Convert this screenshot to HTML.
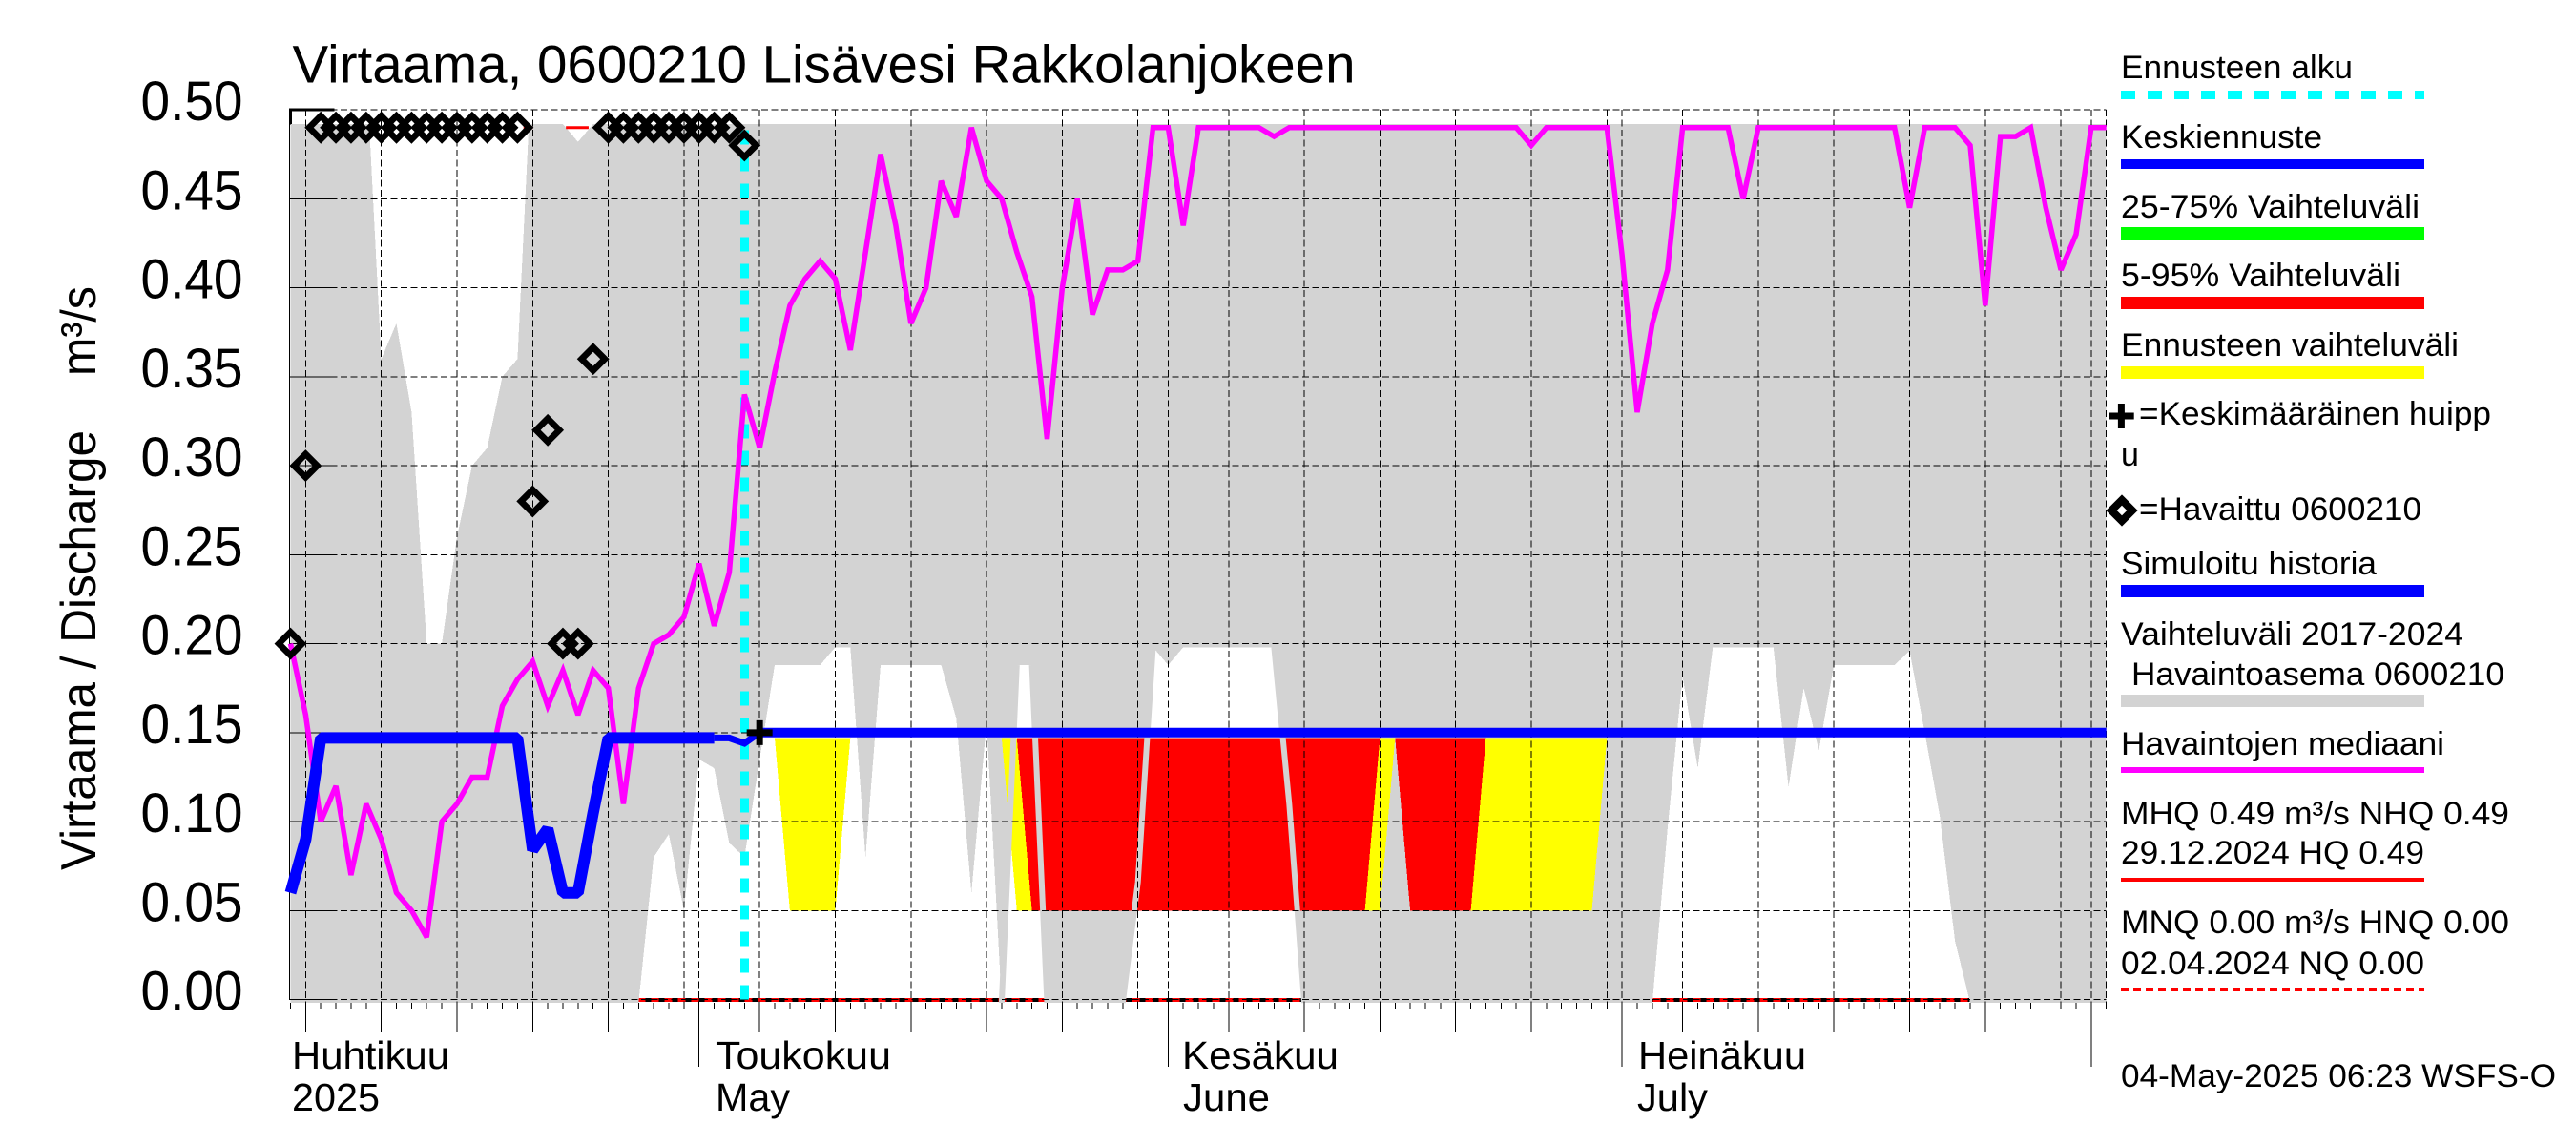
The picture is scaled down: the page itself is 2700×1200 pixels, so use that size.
<!DOCTYPE html>
<html lang="fi">
<head>
<meta charset="utf-8">
<title>Virtaama, 0600210 Lisävesi Rakkolanjokeen</title>
<style>
html,body{margin:0;padding:0;background:#fff;width:2700px;height:1200px;overflow:hidden}
svg{display:block}
text{font-family:"Liberation Sans",sans-serif;fill:#000}
</style>
</head>
<body>
<svg id="chart" xmlns="http://www.w3.org/2000/svg" width="2700" height="1200" viewBox="0 0 2700 1200">
  <defs>
    <clipPath id="range-clip"><rect x="304" y="130" width="1904" height="921"/></clipPath>
  </defs>
  <rect x="0" y="0" width="2700" height="1200" fill="#fff"/>
  <text x="306.5" y="86.5" font-size="56" textLength="1114" lengthAdjust="spacingAndGlyphs">Virtaama, 0600210 Lisävesi Rakkolanjokeen</text>
  <text transform="translate(100,912) rotate(-90)" font-size="52" textLength="461" lengthAdjust="spacingAndGlyphs">Virtaama / Discharge</text>
  <text transform="translate(100,394) rotate(-90)" font-size="52" textLength="94" lengthAdjust="spacingAndGlyphs">m³/s</text>
  <g id="plot"></g>
  <g font-size="41">
    <text x="306" y="1120" textLength="165" lengthAdjust="spacingAndGlyphs">Huhtikuu</text>
    <text x="306" y="1164" textLength="92" lengthAdjust="spacingAndGlyphs">2025</text>
    <text x="750" y="1120" textLength="184" lengthAdjust="spacingAndGlyphs">Toukokuu</text>
    <text x="750" y="1164" textLength="78" lengthAdjust="spacingAndGlyphs">May</text>
    <text x="1239" y="1120" textLength="164" lengthAdjust="spacingAndGlyphs">Kesäkuu</text>
    <text x="1240" y="1164" textLength="91" lengthAdjust="spacingAndGlyphs">June</text>
    <text x="1717" y="1120" textLength="176" lengthAdjust="spacingAndGlyphs">Heinäkuu</text>
    <text x="1716" y="1164" textLength="74" lengthAdjust="spacingAndGlyphs">July</text>
  </g>
  <g font-size="34">
    <text x="2223" y="82" textLength="243" lengthAdjust="spacingAndGlyphs">Ennusteen alku</text>
    <line x1="2223" y1="99.5" x2="2541" y2="99.5" stroke="#00ffff" stroke-width="9" stroke-dasharray="15,13" shape-rendering="crispEdges"/>
    <text x="2223" y="155" textLength="211" lengthAdjust="spacingAndGlyphs">Keskiennuste</text>
    <rect x="2223" y="167" width="318" height="10" fill="#0000ff"/>
    <text x="2223" y="228" textLength="313" lengthAdjust="spacingAndGlyphs">25-75% Vaihteluväli</text>
    <rect x="2223" y="238" width="318" height="14" fill="#00ff00"/>
    <text x="2223" y="300" textLength="293" lengthAdjust="spacingAndGlyphs">5-95% Vaihteluväli</text>
    <rect x="2223" y="311" width="318" height="13" fill="#ff0000"/>
    <text x="2223" y="373" textLength="354" lengthAdjust="spacingAndGlyphs">Ennusteen vaihteluväli</text>
    <rect x="2223" y="384" width="318" height="13" fill="#ffff00"/>
    <path d="M2210 436H2236.7M2223.4 423V449" stroke="#000" stroke-width="7" fill="none"/>
    <text x="2242" y="445" textLength="369" lengthAdjust="spacingAndGlyphs">=Keskimääräinen huipp</text>
    <text x="2223" y="488">u</text>
    <path d="M2224 524L2235 535L2224 546L2213 535Z" stroke="#000" stroke-width="8" fill="none"/>
    <text x="2242" y="545" textLength="296" lengthAdjust="spacingAndGlyphs">=Havaittu 0600210</text>
    <text x="2223" y="602" textLength="268" lengthAdjust="spacingAndGlyphs">Simuloitu historia</text>
    <rect x="2223" y="613" width="318" height="13" fill="#0000ff"/>
    <text x="2223" y="676" textLength="359" lengthAdjust="spacingAndGlyphs">Vaihteluväli 2017-2024</text>
    <text x="2234" y="718" textLength="391" lengthAdjust="spacingAndGlyphs">Havaintoasema 0600210</text>
    <rect x="2223" y="728" width="318" height="13" fill="#d3d3d3"/>
    <text x="2223" y="791" textLength="339" lengthAdjust="spacingAndGlyphs">Havaintojen mediaani</text>
    <rect x="2223" y="804" width="318" height="6" fill="#ff00ff"/>
    <text x="2223" y="864" textLength="407" lengthAdjust="spacingAndGlyphs">MHQ 0.49 m³/s NHQ 0.49</text>
    <text x="2223" y="905" textLength="318" lengthAdjust="spacingAndGlyphs">29.12.2024 HQ 0.49</text>
    <rect x="2223" y="920" width="318" height="4" fill="#ff0000"/>
    <text x="2223" y="978" textLength="407" lengthAdjust="spacingAndGlyphs">MNQ 0.00 m³/s HNQ 0.00</text>
    <text x="2223" y="1021" textLength="318" lengthAdjust="spacingAndGlyphs">02.04.2024 NQ 0.00</text>
    <line x1="2223" y1="1037" x2="2541" y2="1037" stroke="#ff0000" stroke-width="4" stroke-dasharray="8,5" shape-rendering="crispEdges"/>
    <text x="2223" y="1139" textLength="456" lengthAdjust="spacingAndGlyphs">04-May-2025 06:23 WSFS-O</text>
  </g>
</svg>
<script>
// Chart data. Series are one value per day, counted from the first plotted day (4 April 2025).
const yTickValues = [0, 0.05, 0.10, 0.15, 0.20, 0.25, 0.30, 0.35, 0.40, 0.45, 0.50];
const yTickLabels = ['0.00', '0.05', '0.10', '0.15', '0.20', '0.25', '0.30', '0.35', '0.40', '0.45', '0.50'];
const majorTickDays = [1, 6, 11, 16, 21, 31, 36, 41, 46, 51, 62, 67, 72, 77, 82, 92, 97, 102, 107, 112];
const monthStartDays = [27, 58, 88, 119];
const extraGridDays = [26, 56, 87, 117, 120];
const dayCount = 121;
const forecastStartDay = 30;
const peakDay = 31;
const peakValue = 0.15;

const medianValues = [
  0.20, 0.16, 0.10, 0.12, 0.07, 0.11, 0.09, 0.06, 0.05, 0.035,
  0.10, 0.11, 0.125, 0.125, 0.165, 0.18, 0.19, 0.165, 0.185, 0.16,
  0.185, 0.175, 0.11, 0.175, 0.20, 0.205, 0.215, 0.245, 0.21, 0.24,
  0.34, 0.31, 0.3525, 0.39, 0.405, 0.415, 0.405, 0.365, 0.42, 0.475,
  0.435, 0.38, 0.40, 0.46, 0.44, 0.49, 0.46, 0.45, 0.42, 0.395,
  0.315, 0.40, 0.45, 0.385, 0.41, 0.41, 0.415, 0.49, 0.49, 0.435,
  0.49, 0.49, 0.49, 0.49, 0.49, 0.485, 0.49, 0.49, 0.49, 0.49,
  0.49, 0.49, 0.49, 0.49, 0.49, 0.49, 0.49, 0.49, 0.49, 0.49,
  0.49, 0.49, 0.48, 0.49, 0.49, 0.49, 0.49, 0.49, 0.418, 0.33,
  0.38, 0.41, 0.49, 0.49, 0.49, 0.49, 0.45, 0.49, 0.49, 0.49,
  0.49, 0.49, 0.49, 0.49, 0.49, 0.49, 0.49, 0.445, 0.49, 0.49,
  0.49, 0.48, 0.39, 0.485, 0.485, 0.49, 0.445, 0.41, 0.43, 0.49,
  0.49
];
const rangeUpper = [
  0.492, 0.492, 0.492, 0.492, 0.492, 0.525, 0.36, 0.38, 0.33, 0.20,
  0.20, 0.26, 0.30, 0.31, 0.35, 0.36, 0.536, 0.492, 0.492, 0.482,
  0.492, 0.492, 0.492, 0.492, 0.492, 0.492, 0.492, 0.492, 0.492, 0.492,
  0.492, 0.492, 0.492, 0.492, 0.492, 0.492, 0.492, 0.492, 0.492, 0.492,
  0.492, 0.492, 0.492, 0.492, 0.492, 0.492, 0.492, 0.492, 0.492, 0.492,
  0.492, 0.492, 0.492, 0.492, 0.492, 0.492, 0.492, 0.492, 0.492, 0.492,
  0.492, 0.492, 0.492, 0.492, 0.492, 0.492, 0.492, 0.492, 0.492, 0.492,
  0.492, 0.492, 0.492, 0.492, 0.492, 0.492, 0.492, 0.492, 0.492, 0.492,
  0.492, 0.492, 0.492, 0.492, 0.492, 0.492, 0.492, 0.492, 0.492, 0.492,
  0.492, 0.492, 0.492, 0.492, 0.492, 0.492, 0.492, 0.492, 0.492, 0.492,
  0.492, 0.492, 0.492, 0.492, 0.492, 0.492, 0.492, 0.492, 0.492, 0.492,
  0.492, 0.492, 0.492, 0.492, 0.492, 0.492, 0.492, 0.492, 0.492, 0.492,
  0.492
];
const rangeLower = [
  0, 0, 0, 0, 0, 0, 0, 0, 0, 0,
  0, 0, 0, 0, 0, 0, 0, 0, 0, 0,
  0, 0, 0, 0, 0.08, 0.093, 0.05, 0.135, 0.13, 0.088,
  0.08, 0.135, 0.188, 0.188, 0.188, 0.188, 0.198, 0.198, 0.08, 0.188,
  0.188, 0.188, 0.188, 0.188, 0.158, 0.06, 0.156, 0, 0.188, 0.188,
  0, 0, 0, 0, 0, 0, 0.066, 0.198, 0.188, 0.198,
  0.198, 0.198, 0.198, 0.198, 0.198, 0.198, 0.11, 0, 0, 0,
  0, 0, 0, 0, 0, 0, 0, 0, 0, 0,
  0, 0, 0, 0, 0, 0, 0, 0, 0, 0,
  0, 0.096, 0.1815, 0.13, 0.198, 0.198, 0.198, 0.198, 0.198, 0.1194,
  0.175, 0.14, 0.188, 0.188, 0.188, 0.188, 0.188, 0.196, 0.15, 0.103,
  0.033, 0, 0, 0, 0, 0, 0, 0, 0, 0,
  0
];
const simulatedHistory = [
  0.06, 0.09, 0.147, 0.147, 0.147, 0.147, 0.147, 0.147, 0.147, 0.147,
  0.147, 0.147, 0.147, 0.147, 0.147, 0.147, 0.084, 0.096, 0.06, 0.06,
  0.105, 0.147, 0.147, 0.147, 0.147, 0.147, 0.147, 0.147, 0.147
];
const transitionStartDay = 28;
const transitionValues = [0.147, 0.147, 0.144, 0.15];
const meanForecastStartDay = 31;
const meanForecast = [
  0.15, 0.15, 0.15, 0.15, 0.15, 0.15, 0.15, 0.15, 0.15, 0.15,
  0.15, 0.15, 0.15, 0.15, 0.15, 0.15, 0.15, 0.15, 0.15, 0.15,
  0.15, 0.15, 0.15, 0.15, 0.15, 0.15, 0.15, 0.15, 0.15, 0.15,
  0.15, 0.15, 0.15, 0.15, 0.15, 0.15, 0.15, 0.15, 0.15, 0.15,
  0.15, 0.15, 0.15, 0.15, 0.15, 0.15, 0.15, 0.15, 0.15, 0.15,
  0.15, 0.15, 0.15, 0.15, 0.15, 0.15, 0.15, 0.15, 0.15, 0.15,
  0.15, 0.15, 0.15, 0.15, 0.15, 0.15, 0.15, 0.15, 0.15, 0.15,
  0.15, 0.15, 0.15, 0.15, 0.15, 0.15, 0.15, 0.15, 0.15, 0.15,
  0.15, 0.15, 0.15, 0.15, 0.15, 0.15, 0.15, 0.15, 0.15, 0.15
];
const observedValues = [
  0.20, 0.30, 0.49, 0.49, 0.49, 0.49, 0.49, 0.49, 0.49, 0.49,
  0.49, 0.49, 0.49, 0.49, 0.49, 0.49, 0.28, 0.32, 0.20, 0.20,
  0.36, 0.49, 0.49, 0.49, 0.49, 0.49, 0.49, 0.49, 0.49, 0.49,
  0.48
];
const bandTop = 0.147;
const yellowStartDay = 32;
const yellowLower = [
  0.147, 0.05, 0.05, 0.05, 0.05, 0.147, 0.147, 0.147, 0.147, 0.147,
  0.147, 0.147, 0.147, 0.147, 0.147, 0.147, 0.05, 0.05, 0.05, 0.05,
  0.05, 0.05, 0.05, 0.05, 0.05, 0.05, 0.05, 0.05, 0.05, 0.05,
  0.05, 0.05, 0.05, 0.05, 0.05, 0.05, 0.05, 0.05, 0.05, 0.05,
  0.05, 0.147, 0.05, 0.05, 0.05, 0.05, 0.05, 0.05, 0.05, 0.05,
  0.05, 0.05, 0.05, 0.05, 0.05, 0.147
];
const redStartDay = 48;
const redLower = [
  0.147, 0.05, 0.05, 0.05, 0.05, 0.05, 0.05, 0.05, 0.05, 0.05,
  0.05, 0.05, 0.05, 0.05, 0.05, 0.05, 0.05, 0.05, 0.05, 0.05,
  0.05, 0.05, 0.05, 0.05, 0.147, 0.147, 0.05, 0.05, 0.05, 0.05,
  0.05, 0.147
];
const rangeEdgeRuns = [[47, 48], [49, 50], [55, 57], [65, 67]];
const hqValue = 0.49;
const hqRuns = [[15.4, 16], [18.2, 19.7]];
const nqValue = 0;

// Axis functions
const yZero = 1047.6, yPerUnit = 1865, xOrigin = 304.5, xPerDay = 15.86, plotBottom = 1051, plotTop = 115;
function xDay(d) { return xOrigin + d * xPerDay; }
function yVal(v) { return yZero - v * yPerUnit; }
function yRange(v) { return v <= 0 ? plotBottom : yVal(v); }

const SVG_NS = 'http://www.w3.org/2000/svg';
const plot = document.getElementById('plot');
function mk(tag, attrs) {
  const el = document.createElementNS(SVG_NS, tag);
  for (const k in attrs) el.setAttribute(k, attrs[k]);
  plot.appendChild(el);
  return el;
}
function seriesPoints(values, startDay) {
  return values.map(function (v, i) { return xDay(startDay + i).toFixed(1) + ',' + yVal(v).toFixed(1); }).join(' ');
}
function bandPolygonPoints(lower, startDay) {
  const top = [xDay(startDay).toFixed(1) + ',' + yVal(bandTop).toFixed(1), xDay(startDay + lower.length - 1).toFixed(1) + ',' + yVal(bandTop).toFixed(1)];
  const bottom = lower.map(function (v, i) { return xDay(startDay + i).toFixed(1) + ',' + yVal(v).toFixed(1); }).reverse();
  return top.concat(bottom).join(' ');
}

// Heavy corner of the axis, partly hidden by the grey range
const axisCorner = mk('line', { x1: 304.5, y1: 114, x2: 304.5, y2: 131, stroke: '#000', 'stroke-width': 3, 'shape-rendering': 'crispEdges' });



// NQ line at the floor, beneath the grey range
const nqBase = mk('line', { x1: xDay(0), y1: 1048, x2: xDay(120), y2: 1048, stroke: '#000', 'stroke-width': 4, 'shape-rendering': 'crispEdges' });


const nqDash = mk('line', { x1: xDay(0), y1: yVal(nqValue) + 0.4, x2: xDay(120), y2: yVal(nqValue) + 0.4, stroke: '#ff0000', 'stroke-width': 4, 'stroke-dasharray': '8,6', 'shape-rendering': 'crispEdges' });



// Historic grey range
const upperPts = rangeUpper.map(function (v, i) { return xDay(i).toFixed(1) + ',' + yVal(v).toFixed(1); });
const lowerPts = rangeLower.map(function (v, i) { return xDay(i).toFixed(1) + ',' + yRange(v).toFixed(1); }).reverse();
const rangeArea = mk('polygon', { points: upperPts.concat(lowerPts).join(' '), fill: '#d3d3d3', 'clip-path': 'url(#range-clip)', 'shape-rendering': 'crispEdges' });



// HQ fragments
hqRuns.forEach(function (run) {
  const hq = mk('line', { x1: xDay(run[0]), y1: yVal(hqValue), x2: xDay(run[1]), y2: yVal(hqValue), stroke: '#ff0000', 'stroke-width': 3 });
  
  
});

// Forecast bands
const yellowBand = mk('polygon', { points: bandPolygonPoints(yellowLower, yellowStartDay), fill: '#ffff00', 'shape-rendering': 'crispEdges' });


const redBand = mk('polygon', { points: bandPolygonPoints(redLower, redStartDay), fill: '#ff0000', 'shape-rendering': 'crispEdges' });



// Edges of the grey range that show above the bands
rangeEdgeRuns.forEach(function (run) {
  const pts = [];
  for (let d = run[0]; d <= run[1]; d++) pts.push(xDay(d).toFixed(1) + ',' + yRange(rangeLower[d]).toFixed(1));
  const edge = mk('polyline', { points: pts.join(' '), fill: 'none', stroke: '#d3d3d3', 'stroke-width': 6 });
  
  
});

// Grid
yTickValues.forEach(function (v) {
  const g = mk('line', { x1: xDay(0), y1: yVal(v), x2: xDay(120), y2: yVal(v), stroke: '#000', 'stroke-width': 1, 'stroke-dasharray': '7,3.5', 'shape-rendering': 'crispEdges' });
  
  
});
majorTickDays.concat(monthStartDays, extraGridDays).forEach(function (d) {
  const g = mk('line', { x1: xDay(d), y1: plotTop, x2: xDay(d), y2: plotBottom, stroke: '#000', 'stroke-width': 1, 'stroke-dasharray': '7,3.5', 'shape-rendering': 'crispEdges' });
  
  
});

// Y axis
const yAxis = mk('line', { x1: 303.5, y1: plotTop, x2: 303.5, y2: yVal(0), stroke: '#000', 'stroke-width': 1, 'shape-rendering': 'crispEdges' });


yTickValues.forEach(function (v, i) {
  const tick = mk('line', { x1: 303, y1: yVal(v), x2: xDay(0) + 46, y2: yVal(v), stroke: '#000', 'stroke-width': v === 0.5 ? 3 : 1, 'shape-rendering': 'crispEdges' });
  
  
  const label = mk('text', { x: 147.5, y: yVal(v) + 11, 'font-size': 58, textLength: 107, lengthAdjust: 'spacingAndGlyphs' });
  
  
  label.textContent = yTickLabels[i];
});

// X axis ticks
for (let d = 0; d < dayCount; d++) {
  const tick = mk('line', { x1: xDay(d), y1: plotBottom, x2: xDay(d), y2: 1057, stroke: '#000', 'stroke-width': 1, 'shape-rendering': 'crispEdges' });
  
  
}
majorTickDays.forEach(function (d) {
  const tick = mk('line', { x1: xDay(d), y1: plotBottom, x2: xDay(d), y2: 1082, stroke: '#000', 'stroke-width': 1, 'shape-rendering': 'crispEdges' });
  
  
});
monthStartDays.forEach(function (d) {
  const tick = mk('line', { x1: xDay(d), y1: plotBottom, x2: xDay(d), y2: 1118, stroke: '#000', 'stroke-width': 1, 'shape-rendering': 'crispEdges' });
  
  
});

// Forecast start marker
const startLine = mk('line', { x1: xDay(forecastStartDay), y1: yVal(0), x2: xDay(forecastStartDay), y2: 127, stroke: '#00ffff', 'stroke-width': 9, 'stroke-dasharray': '15,13', 'shape-rendering': 'crispEdges' });



// Median
const medianLine = mk('polyline', { points: seriesPoints(medianValues, 0), fill: 'none', stroke: '#ff00ff', 'stroke-width': 5.5, 'stroke-linejoin': 'miter', 'stroke-miterlimit': 3 });



// Simulated history and mean forecast
const historyLine = mk('polyline', { points: seriesPoints(simulatedHistory, 0), fill: 'none', stroke: '#0000ff', 'stroke-width': 12, 'stroke-linejoin': 'bevel' });


const transitionLine = mk('polyline', { points: seriesPoints(transitionValues, transitionStartDay), fill: 'none', stroke: '#0000ff', 'stroke-width': 7 });


const forecastLine = mk('polyline', { points: seriesPoints(meanForecast, meanForecastStartDay), fill: 'none', stroke: '#0000ff', 'stroke-width': 10 });



// Observations
observedValues.forEach(function (v, i) {
  const cx = xDay(i), cy = yVal(v);
  const d = 'M' + cx + ' ' + (cy - 12.2) + 'L' + (cx + 12.2) + ' ' + cy + 'L' + cx + ' ' + (cy + 12.2) + 'L' + (cx - 12.2) + ' ' + cy + 'Z';
  const marker = mk('path', { d: d, fill: 'none', stroke: '#000', 'stroke-width': 6.7 });
  
  
});

// Mean peak marker
const peakPath = 'M' + (xDay(peakDay) - 13.5) + ' ' + yVal(peakValue) + 'H' + (xDay(peakDay) + 13.5) + 'M' + xDay(peakDay) + ' ' + (yVal(peakValue) - 13) + 'V' + (yVal(peakValue) + 13);
const peakMarker = mk('path', { d: peakPath, fill: 'none', stroke: '#000', 'stroke-width': 7 });


</script>
</body>
</html>
